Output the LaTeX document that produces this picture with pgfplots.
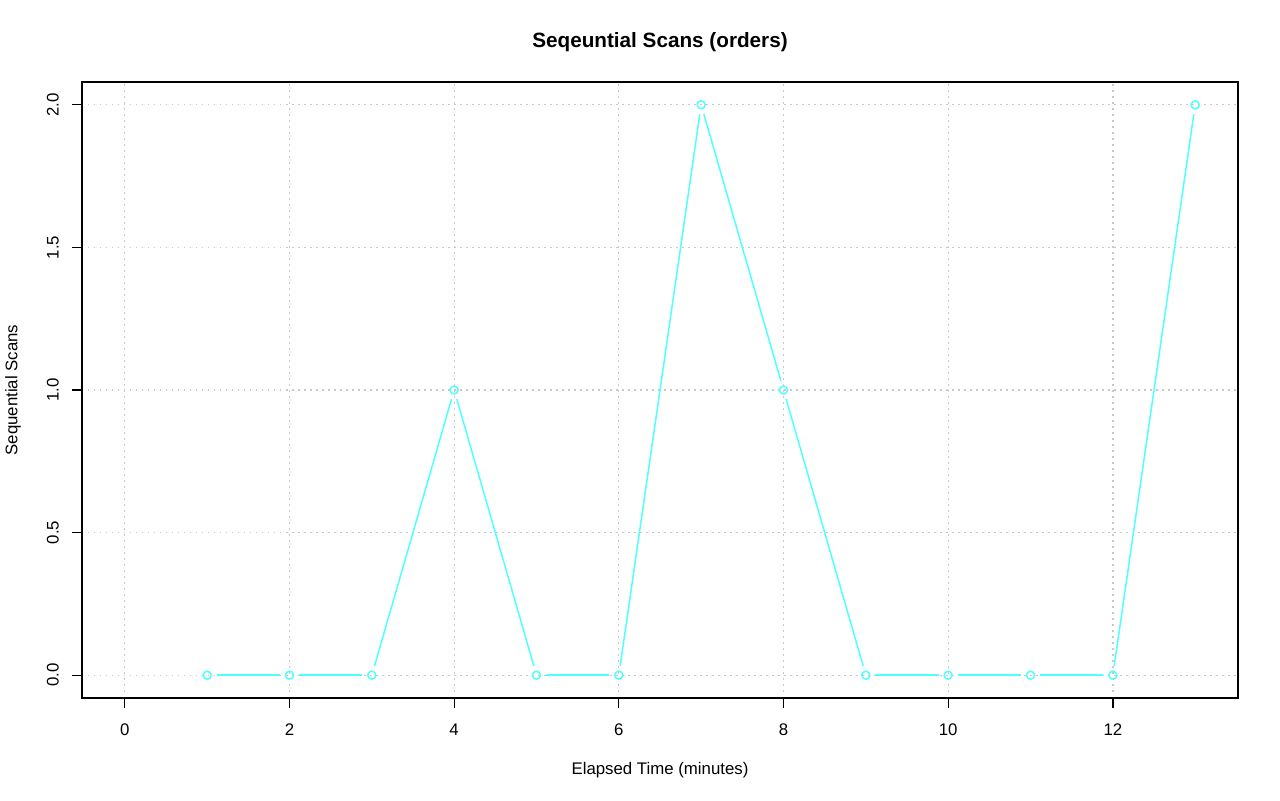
\documentclass[border=0pt]{standalone}
\usepackage{pgfplots}
\pgfplotsset{compat=1.18}
\usepackage{fontspec}
\setmainfont{Liberation Sans}
\definecolor{scan}{RGB}{80,255,255}
\definecolor{gridgray}{RGB}{200,200,200}
\pgfplotsset{seg/.style={scan, line width=1.5bp, shorten <=9.5bp, shorten >=9.5bp, mark=none}}

\begin{document}
\begin{tikzpicture}
\useasboundingbox (-82bp,-103bp) rectangle (1198bp,698bp);
\begin{axis}[
  at={(0,0)}, anchor=south west, scale only axis,
  width=1156bp, height=616bp,
  xmin=-0.52, xmax=13.52, ymin=-0.08, ymax=2.08,
  xtick={0,2,4,6,8,10,12}, ytick={0,0.5,1,1.5,2},
  axis line style={line width=1.3bp},
  grid=major,
  major grid style={gridgray, line width=1.3bp, dash pattern=on 1.5bp off 4.5bp},
  tick align=outside, tick pos=left, major tick length=10bp,
  tick style={black, line width=1.3bp},
  tick label style={font=\fontsize{16.8bp}{19bp}\selectfont},
  /pgf/number format/assume math mode=true,
  xticklabel style={yshift=-12.5bp},
  yticklabel style={/pgf/number format/.cd, fixed, fixed zerofill, precision=1, /tikz/.cd, rotate=90, anchor=south, inner ysep=13bp},
  clip=false,
]
% line pieces stop short of the points, as in type = "b"
\addplot[seg] coordinates {(1,0) (2,0)};
\addplot[seg] coordinates {(2,0) (3,0)};
\addplot[seg] coordinates {(3,0) (4,1)};
\addplot[seg] coordinates {(4,1) (5,0)};
\addplot[seg] coordinates {(5,0) (6,0)};
\addplot[seg] coordinates {(6,0) (7,2)};
\addplot[seg] coordinates {(7,2) (8,1)};
\addplot[seg] coordinates {(8,1) (9,0)};
\addplot[seg] coordinates {(9,0) (10,0)};
\addplot[seg] coordinates {(10,0) (11,0)};
\addplot[seg] coordinates {(11,0) (12,0)};
\addplot[seg] coordinates {(12,0) (13,2)};
\addplot[only marks, mark=o, mark size=4bp, mark options={scan, line width=1.5bp}]
  coordinates {(1,0) (2,0) (3,0) (4,1) (5,0) (6,0) (7,2) (8,1) (9,0) (10,0) (11,0) (12,0) (13,2)};
\end{axis}
\node[font=\fontsize{20.7bp}{24bp}\selectfont\bfseries] at (578bp,656bp) {Seqeuntial Scans (orders)};
\node[font=\fontsize{16.8bp}{19bp}\selectfont] at (578bp,-72bp) {Elapsed Time (minutes)};
\node[font=\fontsize{16.8bp}{19bp}\selectfont, rotate=90] at (-69bp,308bp) {Sequential Scans};
\end{tikzpicture}
\end{document}
